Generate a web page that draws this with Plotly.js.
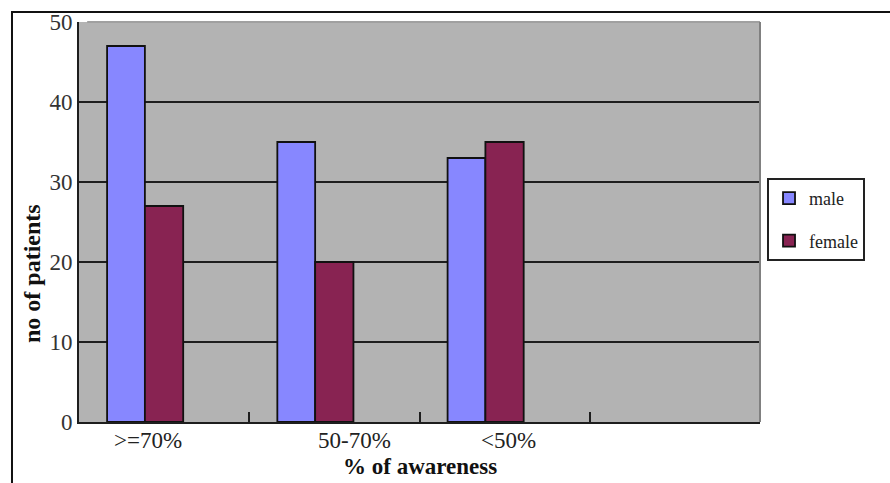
<!DOCTYPE html>
<html>
<head>
<meta charset="utf-8">
<script src="https://cdn.plot.ly/plotly-3.0.1.min.js"></script>
<style>
  html, body { margin: 0; padding: 0; background: #ffffff; }
  #chart { width: 890px; height: 483px; }
</style>
</head>
<body>
<div id="chart"></div>
<script>
// Awareness level groups (the fourth slot is an empty category on the axis)
const categories = ['>=70%', '50-70%', '<50%', ' '];
const groupLabels = ['>=70%', '50-70%', '<50%'];
const maleCounts = [47, 35, 33];
const femaleCounts = [27, 20, 35];

const FONT = 'Liberation Serif, Times New Roman, serif';
const INK = '#1e1e1e';

const male = {
  type: 'bar',
  name: 'male',
  legendgroup: 'male',
  x: groupLabels,
  y: maleCounts,
  width: 0.222,
  offset: -0.335,
  marker: { color: '#8787ff', line: { color: '#111111', width: 1.8 } },
  hoverinfo: 'x+y+name'
};

const female = {
  type: 'bar',
  name: 'female',
  legendgroup: 'female',
  x: groupLabels,
  y: femaleCounts,
  width: 0.225,
  offset: -0.113,
  marker: { color: '#882352', line: { color: '#111111', width: 1.8 } },
  hoverinfo: 'x+y+name'
};

// Category labels sit slightly off the category centres
const labelShift = [-16, 20, 4];
const tickAnnotations = groupLabels.map((lab, i) => ({
  xref: 'x', yref: 'paper',
  x: lab, y: 0,
  xshift: labelShift[i], yshift: -18,
  xanchor: 'center', yanchor: 'middle',
  text: lab.replace(/</g, '&lt;').replace(/>/g, '&gt;'),
  showarrow: false,
  font: { family: FONT, size: 23, color: '#222222' }
}));

const layout = {
  width: 890,
  height: 483,
  margin: { l: 79, r: 130, t: 22, b: 61, pad: 0 },
  paper_bgcolor: '#ffffff',
  plot_bgcolor: '#b3b3b3',
  barmode: 'overlay',
  showlegend: true,
  font: { family: FONT, color: '#222222' },
  xaxis: {
    type: 'category',
    categoryorder: 'array',
    categoryarray: categories,
    range: [-0.5, 3.5],
    tickson: 'boundaries',
    ticks: 'inside',
    ticklen: 10,
    tickwidth: 2,
    tickcolor: INK,
    showticklabels: false,
    showgrid: false,
    zeroline: false,
    showline: true,
    linecolor: INK,
    linewidth: 2,
    fixedrange: true
  },
  yaxis: {
    range: [0, 50],
    tickvals: [0, 10, 20, 30, 40, 50],
    ticks: 'inside',
    ticklen: 8,
    tickwidth: 2,
    tickcolor: INK,
    tickfont: { family: FONT, size: 23, color: '#333333' },
    showgrid: true,
    gridcolor: INK,
    gridwidth: 2,
    zeroline: false,
    showline: true,
    linecolor: INK,
    linewidth: 2,
    fixedrange: true
  },
  legend: {
    x: 1.0103,
    y: 0.61,
    xanchor: 'left',
    yanchor: 'top',
    bgcolor: '#ffffff',
    bordercolor: '#222222',
    borderwidth: 2,
    tracegroupgap: 16,
    font: { family: FONT, size: 18, color: '#222222' }
  },
  annotations: tickAnnotations.concat([
    {
      xref: 'paper', yref: 'paper',
      x: 0.5, y: 0, yshift: -44,
      xanchor: 'center', yanchor: 'middle',
      text: '<b>% of awareness</b>',
      showarrow: false,
      font: { family: FONT, size: 23, color: '#111111' }
    },
    {
      xref: 'paper', yref: 'paper',
      x: 0, xshift: -47, y: 0.37,
      xanchor: 'center', yanchor: 'middle',
      text: '<b>no of patients</b>',
      textangle: -90,
      showarrow: false,
      font: { family: FONT, size: 24, color: '#111111' }
    }
  ]),
  shapes: [
    // top and right edges of the plot area
    { type: 'line', xref: 'paper', yref: 'paper', x0: 0.012, x1: 1, y0: 1, y1: 1,
      line: { color: '#a0a0a0', width: 2 }, layer: 'above' },
    { type: 'line', xref: 'paper', yref: 'paper', x0: 1, x1: 1, y0: 0, y1: 1,
      line: { color: '#808080', width: 2 }, layer: 'above' },
    // frame around the figure
    { type: 'rect', xref: 'paper', yref: 'paper', x0: -0.0984, x1: 1.4, y0: -0.4, y1: 1.025,
      line: { color: '#111111', width: 2 }, fillcolor: 'rgba(0,0,0,0)', layer: 'below' }
  ]
};

Plotly.newPlot('chart', [male, female], layout, { displayModeBar: false, staticPlot: true });
</script>
</body>
</html>
